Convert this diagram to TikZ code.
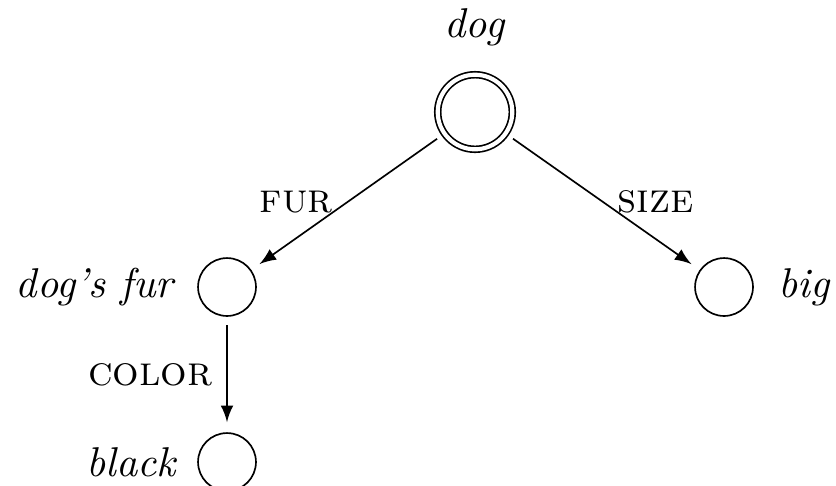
\documentclass[tikz,border=0pt]{standalone}
\usepackage{tikz}

\begin{document}
\begin{tikzpicture}[x=0.24pt,y=-0.24pt,
    state/.style={draw,circle,minimum size=13.9pt,inner sep=0pt},
    rootstate/.style={state,double,double distance=1pt,minimum size=17.9pt},
    edge/.style={->,>=latex,shorten >=2.4pt,shorten <=2pt},
    rel/.style={font=\scshape}]
  \useasboundingbox (0,0) rectangle (836,485);
  % states
  \node[rootstate,label={[label distance=3.2pt]above:\textit{dog}}] (dog) at (475,112) {};
  \node[state,label={[label distance=1.6pt]left:\textit{dog's fur}}] (fur) at (227,287) {};
  \node[state,label={[label distance=2.4pt]right:\textit{big}}] (big) at (724,287) {};
  \node[state,label={[label distance=1.2pt]left:\textit{black}}] (black) at (227,462) {};
  % relations
  \draw[edge] (dog) -- node[rel,pos=0.5,left] {fur} (fur);
  \draw[edge] (dog) -- node[rel,pos=0.5,right] {size} (big);
  \draw[edge] (fur) -- node[rel,midway,left] {color} (black);
\end{tikzpicture}
\end{document}
